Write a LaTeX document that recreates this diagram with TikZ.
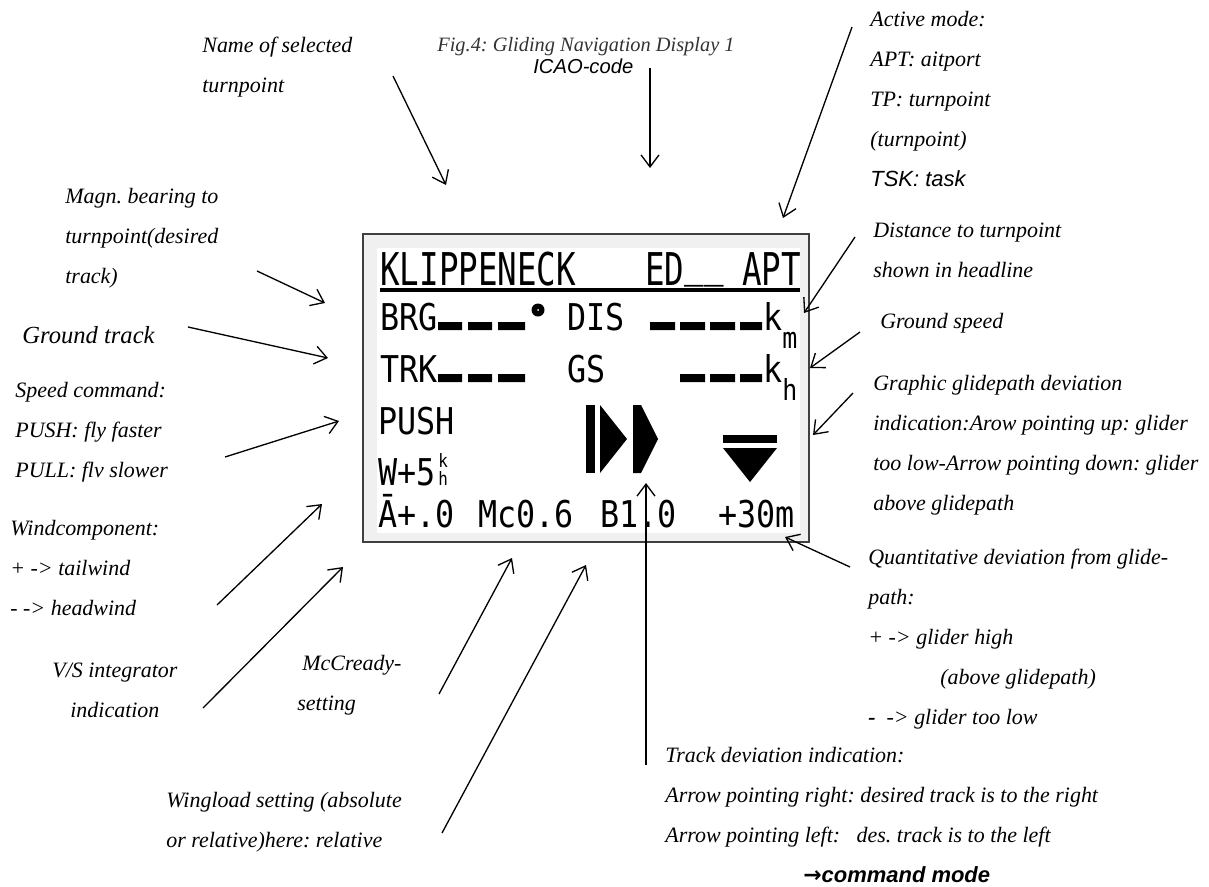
\documentclass[tikz,border=0pt]{standalone}
\usepackage{fontspec}
\setmainfont{Liberation Serif}
\newfontfamily\arialfont{Liberation Sans}
\newfontfamily\symfont{DejaVu Sans}
\newfontfamily\lcdfont[FakeStretch=0.86]{DejaVu Sans Mono}
\newfontfamily\lcdhead[FakeStretch=0.72]{DejaVu Sans Mono}
\usetikzlibrary{arrows.meta}
\frenchspacing

\begin{document}
\begin{tikzpicture}[x=0.02cm, y=-0.02cm,
  lbl/.style={font=\fontsize{12.5}{22.68}\selectfont\itshape,
              align=left, inner sep=0pt, anchor=west},
  lcd/.style={font=\lcdfont\fontsize{21}{21}\selectfont,
              inner sep=0pt, anchor=base west},
  lcdtop/.style={font=\lcdhead\fontsize{25.7}{25.7}\selectfont,
                 inner sep=0pt, anchor=base west},
  lcdsub/.style={font=\lcdfont\fontsize{16.5}{16.5}\selectfont,
                 inner sep=0pt, anchor=base west},
  lcdtiny/.style={font=\lcdfont\fontsize{10.5}{10.5}\selectfont,
                  inner sep=0pt, anchor=base west},
  pix/.style={fill=black, draw=none},
  arr/.style={-{Straight Barb[length=2.4mm,width=3.6mm]}, line width=0.75pt}
]
\useasboundingbox (0,0) rectangle (1209,886);

%% Display frame
\draw[fill=black!6, draw=black!75, line width=1.2pt] (363,234) rectangle (809,542);
\fill[white] (377,248) rectangle (800,533);

%% Headline
\node[lcdtop] (hname) at (380,285) {KLIPPENECK};
\node[lcdtop] (hicao) at (645,285) {ED\raisebox{5pt}{\_\_}};
\node[lcdtop] (hmode) at (742,285) {APT};
\draw[line width=2.8pt] (380,290) -- (800,290);

%% BRG / DIS row
\node[lcd] (brg) at (380,330) {BRG};
\fill[pix] (438,322) rectangle (462,330) (468,322) rectangle (492,330)
           (498,322) rectangle (525,330);
\fill[black] (538,310) circle (6.5);
\fill[white] (538,310) circle (1);
\node[lcd] (dis) at (567,330) {DIS};
\fill[pix] (650,322) rectangle (675,330) (680,322) rectangle (705,330)
           (710,322) rectangle (735,330) (740,322) rectangle (762,330);
\node[lcd] (disk) at (763,330) {k};
\node[lcdsub] (dism) at (782,348) {m};

%% TRK / GS row
\node[lcd] (trk) at (380,382) {TRK};
\fill[pix] (438,374) rectangle (462,382) (468,374) rectangle (492,382)
           (498,374) rectangle (525,382);
\node[lcd] (gs) at (567,382) {GS};
\fill[pix] (680,374) rectangle (705,382) (710,374) rectangle (735,382)
           (740,374) rectangle (762,382);
\node[lcd] (gsk) at (763,382) {k};
\node[lcdsub] (gsh) at (782,400) {h};

%% Speed command, wind, bottom line
\node[lcd] (push) at (378,434) {PUSH};
\node[lcd] (wind) at (378,485) {W+5};
\node[lcdtiny] (windk) at (438,467) {k};
\node[lcdtiny] (windh) at (438,485) {h};
\node[lcd] (vsi) at (378,527) {Ā+.0};
\node[lcd] (mc) at (478,527) {Mc0.6};
\node[lcd] (ballast) at (600,527) {B1.0};
\node[lcd] (dev) at (718,527) {+30m};

%% Track deviation and glidepath symbols
\fill[pix] (586,405) rectangle (595,473);
\fill[pix] (600,405) -- (627,439) -- (600,473) -- cycle;
\fill[pix] (633,405) -- (641,405) -- (658,439) -- (641,473) -- (633,473) -- cycle;
\fill[pix] (723,435) rectangle (777,443);
\fill[pix] (723,448) -- (777,448) -- (750,482) -- cycle;

%% Labels, top
\node[lbl] (selname) at (202,67) {Name of selected\\turnpoint};
\node[lbl, font=\fontsize{11.6}{14}\selectfont\itshape, text=black!80] (caption) at (437,47)
  {Fig.4: Gliding Navigation Display 1};
\node[lbl, font=\arialfont\fontsize{11.5}{14}\selectfont\itshape] (icao) at (533,66) {ICAO-code};
\node[lbl] (active) at (870,99)
  {Active mode:\\APT: aitport\\TP: turnpoint\\(turnpoint)\\{\arialfont TSK: task}};

%% Labels, left
\node[lbl] (magn) at (65,238) {Magn. bearing to\\turnpoint(desired\\track)};
\node[lbl, font=\fontsize{14}{16}\selectfont\itshape] (gtrack) at (22,335) {Ground track};
\node[lbl] (speed) at (15,432) {Speed command:\\PUSH: fly faster\\PULL: flv slower};
\node[lbl] (windc) at (10,568) {Windcomponent:\\+ -> tailwind\\- -> headwind};
\node[lbl] (vsint) at (52,690) {V/S integrator\\\hspace*{0.36cm}indication};
\node[lbl] (mccr) at (297,685) {\hspace*{0.1cm}McCready-\\setting};
\node[lbl] (wload) at (166,822) {Wingload setting (absolute\\or relative)here: relative};

%% Labels, right and bottom
\node[lbl] (tdev) at (665,815)
  {Track deviation indication:\\
   Arrow pointing right: desired track is to the right\\
   Arrow pointing left:~~~des. track is to the left\\
   \hspace*{2.76cm}{\symfont\bfseries →}{\arialfont\bfseries command mode}};
\node[lbl] (dist) at (873,250) {Distance to turnpoint\\shown in headline};
\node[lbl] (gspeed) at (880,323) {Ground speed};
\node[lbl] (gpath) at (873,445)
  {Graphic glidepath deviation\\indication:Arow pointing up: glider\\
   too low-Arrow pointing down: glider\\above glidepath};
\node[lbl] (quant) at (868,639)
  {Quantitative deviation from glide-\\path:\\+ -> glider high\\
   \hspace*{1.44cm}(above glidepath)\\\textbf{-}~~-> glider too low};

%% Arrow ends
\coordinate (selnameA) at (393,76);  \coordinate (selnameB) at (446,185);
\coordinate (icaoA) at (650,68);     \coordinate (icaoB) at (650,168);
\coordinate (activeA) at (852,27);   \coordinate (activeB) at (783,218);
\coordinate (magnA) at (257,271);    \coordinate (magnB) at (325,303);
\coordinate (gtrackA) at (188,327);  \coordinate (gtrackB) at (328,358);
\coordinate (speedA) at (225,457);   \coordinate (speedB) at (339,421);
\coordinate (windcA) at (217,605);   \coordinate (windcB) at (322,504);
\coordinate (vsintA) at (203,708);   \coordinate (vsintB) at (343,567);
\coordinate (mccrA) at (439,694);    \coordinate (mccrB) at (512,558);
\coordinate (wloadA) at (442,833);   \coordinate (wloadB) at (586,565);
\coordinate (tdevA) at (646,765);    \coordinate (tdevB) at (646,483);
\coordinate (distA) at (855,237);    \coordinate (distB) at (804,313);
\coordinate (gspeedA) at (860,332);  \coordinate (gspeedB) at (810,368);
\coordinate (gpathA) at (853,393);   \coordinate (gpathB) at (813,435);
\coordinate (quantA) at (850,567);   \coordinate (quantB) at (785,537);

%% Arrows
\foreach \n in {selname,icao,active,magn,gtrack,speed,windc,vsint,
                mccr,wload,tdev,dist,gspeed,gpath,quant}
  \draw[arr] (\n A) -- (\n B);
\end{tikzpicture}
\end{document}
